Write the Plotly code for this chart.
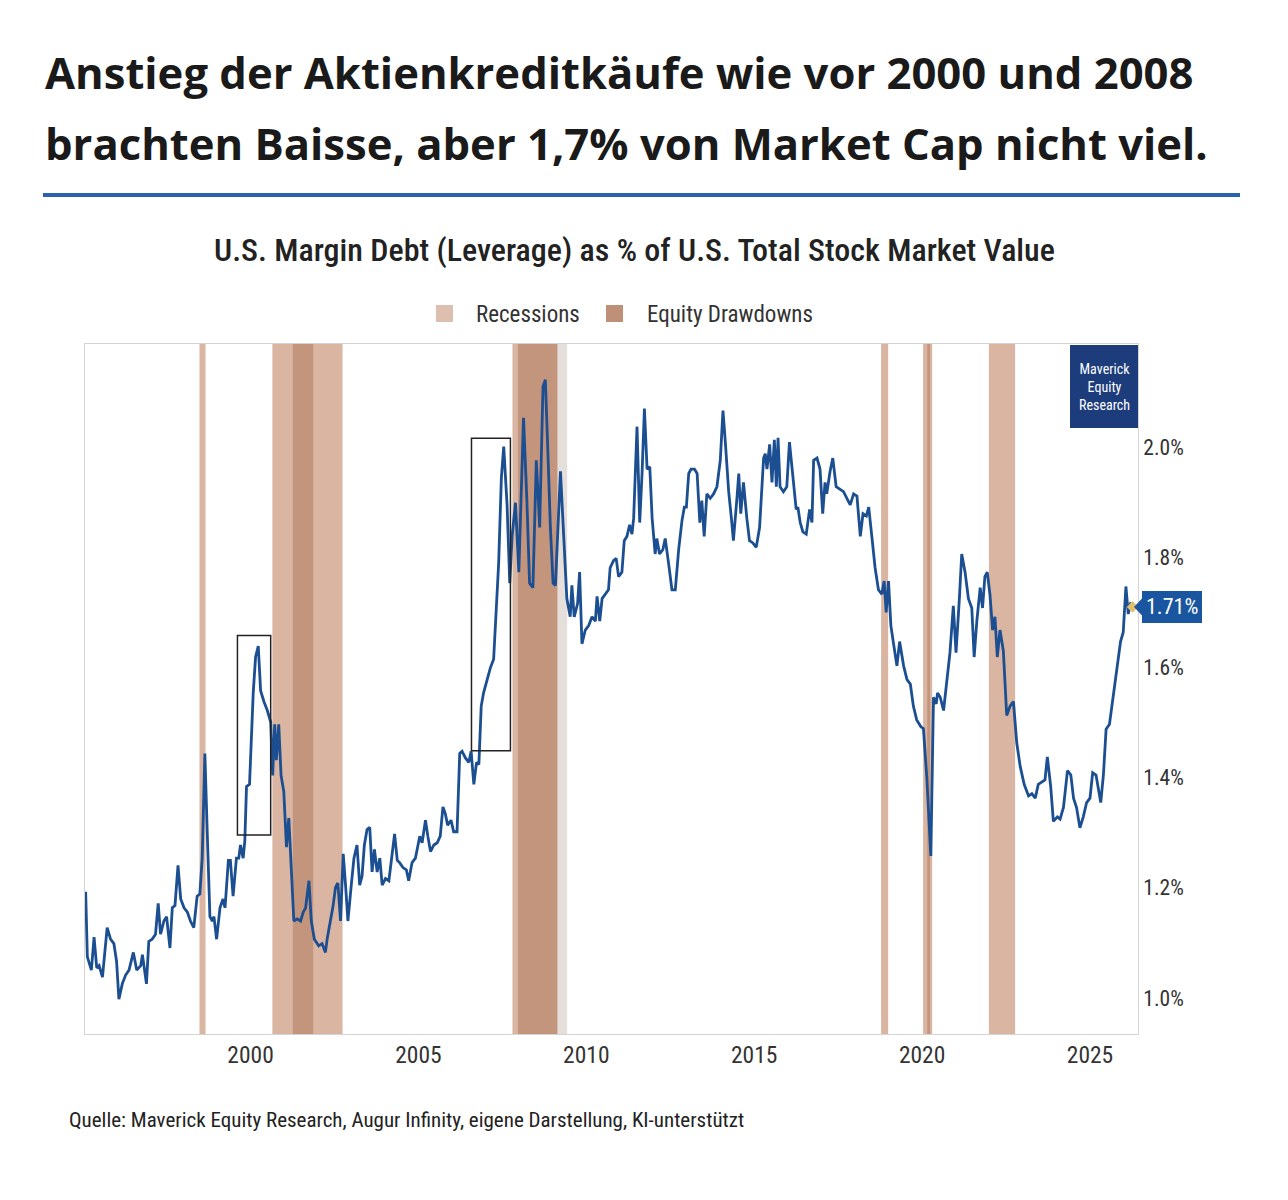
import plotly.graph_objects as go

# Margin debt as % of total US stock market value
years = [
    1995.09, 1995.14, 1995.26, 1995.34, 1995.42, 1995.49, 1995.59, 1995.73, 1995.83, 1995.93,
    1996.01, 1996.08, 1996.18, 1996.28, 1996.38, 1996.51, 1996.61, 1996.73, 1996.78, 1996.90,
    1996.97, 1997.07, 1997.17, 1997.25, 1997.32, 1997.42, 1997.50, 1997.60, 1997.67, 1997.75,
    1997.84, 1997.92, 1998.02, 1998.12, 1998.21, 1998.31, 1998.41, 1998.49, 1998.56, 1998.64,
    1998.71, 1998.79, 1998.86, 1998.91, 1998.99, 1999.09, 1999.18, 1999.24, 1999.34, 1999.40,
    1999.48, 1999.58, 1999.65, 1999.70, 1999.78, 1999.83, 1999.88, 1999.97, 2000.08, 2000.15,
    2000.23, 2000.30, 2000.40, 2000.50, 2000.60, 2000.66, 2000.72, 2000.77, 2000.84, 2000.91,
    2000.99, 2001.07, 2001.14, 2001.21, 2001.29, 2001.39, 2001.49, 2001.57, 2001.64, 2001.74,
    2001.81, 2001.90, 2002.03, 2002.13, 2002.23, 2002.28, 2002.36, 2002.46, 2002.53, 2002.60,
    2002.68, 2002.76, 2002.83, 2002.90, 2003.00, 2003.08, 2003.17, 2003.25, 2003.32, 2003.39,
    2003.47, 2003.55, 2003.62, 2003.69, 2003.77, 2003.85, 2003.92, 2004.02, 2004.12, 2004.22,
    2004.29, 2004.37, 2004.44, 2004.54, 2004.64, 2004.71, 2004.81, 2004.91, 2005.04, 2005.11,
    2005.21, 2005.28, 2005.36, 2005.46, 2005.56, 2005.65, 2005.73, 2005.80, 2005.87, 2005.97,
    2006.05, 2006.15, 2006.23, 2006.30, 2006.40, 2006.50, 2006.57, 2006.65, 2006.73, 2006.80,
    2006.87, 2006.94, 2007.04, 2007.14, 2007.24, 2007.29, 2007.39, 2007.47, 2007.54, 2007.64,
    2007.72, 2007.79, 2007.89, 2007.99, 2008.04, 2008.13, 2008.23, 2008.31, 2008.41, 2008.51,
    2008.56, 2008.61, 2008.71, 2008.78, 2008.85, 2008.93, 2009.01, 2009.08, 2009.23, 2009.33,
    2009.42, 2009.52, 2009.57, 2009.64, 2009.74, 2009.80, 2009.87, 2009.97, 2010.07, 2010.17,
    2010.27, 2010.32, 2010.40, 2010.47, 2010.57, 2010.66, 2010.71, 2010.81, 2010.89, 2010.96,
    2011.06, 2011.13, 2011.21, 2011.29, 2011.36, 2011.41, 2011.51, 2011.59, 2011.66, 2011.73,
    2011.81, 2011.89, 2011.96, 2012.05, 2012.10, 2012.18, 2012.28, 2012.35, 2012.45, 2012.55,
    2012.65, 2012.75, 2012.85, 2012.92, 2012.98, 2013.05, 2013.12, 2013.22, 2013.30, 2013.38,
    2013.44, 2013.51, 2013.59, 2013.69, 2013.79, 2013.89, 2013.99, 2014.07, 2014.14, 2014.24,
    2014.32, 2014.38, 2014.48, 2014.54, 2014.60, 2014.68, 2014.78, 2014.86, 2014.96, 2015.06,
    2015.16, 2015.28, 2015.33, 2015.38, 2015.46, 2015.53, 2015.60, 2015.66, 2015.71, 2015.77,
    2015.87, 2015.97, 2016.05, 2016.15, 2016.25, 2016.30, 2016.37, 2016.45, 2016.55, 2016.65,
    2016.72, 2016.77, 2016.87, 2016.96, 2017.04, 2017.11, 2017.16, 2017.26, 2017.34, 2017.44,
    2017.56, 2017.66, 2017.76, 2017.86, 2017.96, 2018.06, 2018.16, 2018.24, 2018.34, 2018.41,
    2018.51, 2018.60, 2018.70, 2018.80, 2018.87, 2018.93, 2019.00, 2019.07, 2019.15, 2019.25,
    2019.33, 2019.45, 2019.55, 2019.65, 2019.74, 2019.84, 2019.96, 2020.04, 2020.14, 2020.26,
    2020.34, 2020.42, 2020.46, 2020.54, 2020.64, 2020.74, 2020.83, 2020.93, 2021.01, 2021.11,
    2021.18, 2021.28, 2021.38, 2021.48, 2021.55, 2021.63, 2021.73, 2021.80, 2021.87, 2021.94,
    2022.02, 2022.10, 2022.17, 2022.24, 2022.32, 2022.42, 2022.52, 2022.62, 2022.72, 2022.82,
    2022.92, 2023.04, 2023.17, 2023.27, 2023.37, 2023.46, 2023.56, 2023.66, 2023.73, 2023.83,
    2023.91, 2024.03, 2024.11, 2024.21, 2024.33, 2024.43, 2024.51, 2024.60, 2024.70, 2024.80,
    2024.90, 2025.00, 2025.08, 2025.18, 2025.25, 2025.32, 2025.40, 2025.48, 2025.58, 2025.65,
    2025.74, 2025.84, 2025.91, 2025.99, 2026.07, 2026.14, 2026.21, 2026.27,
]
margin_debt_pct = [
    1.193, 1.075, 1.051, 1.111, 1.055, 1.059, 1.038, 1.128, 1.107, 1.099,
    1.067, 0.998, 1.026, 1.042, 1.051, 1.083, 1.051, 1.059, 1.079, 1.026,
    1.103, 1.107, 1.116, 1.172, 1.116, 1.140, 1.148, 1.091, 1.164, 1.168,
    1.241, 1.180, 1.164, 1.156, 1.140, 1.128, 1.185, 1.189, 1.254, 1.444,
    1.302, 1.148, 1.140, 1.148, 1.107, 1.164, 1.180, 1.164, 1.250, 1.250,
    1.185, 1.254, 1.254, 1.278, 1.254, 1.286, 1.384, 1.388, 1.554, 1.619,
    1.639, 1.558, 1.538, 1.522, 1.501, 1.404, 1.497, 1.432, 1.497, 1.404,
    1.375, 1.274, 1.327, 1.241, 1.140, 1.144, 1.140, 1.156, 1.164, 1.213,
    1.140, 1.107, 1.095, 1.099, 1.083, 1.107, 1.132, 1.168, 1.201, 1.209,
    1.140, 1.262, 1.205, 1.140, 1.205, 1.254, 1.278, 1.205, 1.221, 1.278,
    1.306, 1.310, 1.229, 1.270, 1.229, 1.254, 1.205, 1.217, 1.213, 1.262,
    1.298, 1.250, 1.246, 1.237, 1.233, 1.213, 1.246, 1.254, 1.294, 1.282,
    1.323, 1.294, 1.266, 1.278, 1.282, 1.294, 1.347, 1.335, 1.314, 1.323,
    1.302, 1.302, 1.444, 1.448, 1.436, 1.428, 1.448, 1.388, 1.428, 1.424,
    1.530, 1.554, 1.578, 1.599, 1.615, 1.676, 1.790, 1.944, 2.001, 1.895,
    1.753, 1.838, 1.899, 1.773, 1.871, 2.053, 1.903, 1.753, 1.745, 1.976,
    1.919, 1.854, 2.110, 2.122, 2.001, 1.854, 1.753, 1.749, 1.956, 1.830,
    1.725, 1.692, 1.749, 1.692, 1.716, 1.773, 1.643, 1.668, 1.676, 1.692,
    1.684, 1.729, 1.684, 1.725, 1.733, 1.741, 1.781, 1.794, 1.798, 1.765,
    1.773, 1.830, 1.838, 1.859, 1.842, 1.871, 2.037, 1.863, 1.952, 2.070,
    1.960, 1.964, 1.871, 1.806, 1.834, 1.806, 1.814, 1.834, 1.789, 1.741,
    1.741, 1.814, 1.867, 1.891, 1.891, 1.952, 1.960, 1.960, 1.952, 1.863,
    1.903, 1.838, 1.915, 1.907, 1.915, 1.928, 1.976, 2.066, 2.009, 1.919,
    1.871, 1.830, 1.903, 1.952, 1.879, 1.936, 1.871, 1.830, 1.826, 1.818,
    1.854, 1.980, 1.988, 1.960, 2.005, 1.936, 2.013, 1.928, 2.017, 1.928,
    1.919, 1.928, 2.009, 1.944, 1.887, 1.891, 1.863, 1.846, 1.842, 1.887,
    1.863, 1.976, 1.980, 1.960, 1.879, 1.936, 1.915, 1.956, 1.980, 1.928,
    1.923, 1.919, 1.907, 1.895, 1.915, 1.911, 1.838, 1.879, 1.875, 1.891,
    1.834, 1.781, 1.741, 1.733, 1.757, 1.700, 1.757, 1.676, 1.643, 1.603,
    1.647, 1.603, 1.578, 1.570, 1.530, 1.505, 1.493, 1.489, 1.400, 1.258,
    1.546, 1.534, 1.554, 1.546, 1.522, 1.578, 1.627, 1.712, 1.627, 1.725,
    1.806, 1.773, 1.725, 1.708, 1.619, 1.684, 1.745, 1.708, 1.765, 1.773,
    1.733, 1.668, 1.692, 1.619, 1.668, 1.630, 1.513, 1.530, 1.538, 1.463,
    1.421, 1.388, 1.367, 1.371, 1.363, 1.388, 1.392, 1.396, 1.438, 1.384,
    1.321, 1.329, 1.325, 1.346, 1.413, 1.405, 1.363, 1.346, 1.309, 1.329,
    1.355, 1.363, 1.409, 1.405, 1.380, 1.355, 1.405, 1.488, 1.497, 1.530,
    1.572, 1.613, 1.647, 1.664, 1.747, 1.697, 1.718, 1.710,
]

# shaded periods (decimal years)
recession_periods = [(2001.25, 2001.875), (2007.96, 2009.43), (2020.15, 2020.24)]
drawdown_periods = [
    (1998.48, 1998.66), (2000.65, 2002.74), (2007.80, 2009.14),
    (2018.78, 2018.99), (2020.03, 2020.30), (2021.99, 2022.77),
]
# boxes drawn around the run-ups before 2000 and 2008: (x0, x1, y0, y1)
highlight_boxes = [(1999.61, 2000.60, 1.296, 1.658), (2006.58, 2007.74, 1.449, 2.016)]

x_ticks = [2000, 2005, 2010, 2015, 2020, 2025]
y_ticks = [1.0, 1.2, 1.4, 1.6, 1.8, 2.0]
legend_names = ["Recessions", "Equity Drawdowns"]
last_label = "1.71%"

DRAWDOWN_COLOR = "#dab6a2"
RECESSION_COLOR = "#e5dfdb"
OVERLAP_COLOR = "#c4957d"
LEGEND_COLORS = ["#dcbfae", "#bf9078"]
LINE_COLOR = "#1c4f91"
NARROW = "Roboto Condensed, Liberation Sans Narrow, DejaVu Sans Condensed, Roboto, sans-serif"

# plot area in pixels, used to place things outside it
W, H = 1288, 1200
L, R, T, B = 85, 1138, 344, 1034


def px_x(p):
    return (p - L) / (R - L)


def px_y(p):
    return (B - p) / (B - T)


def add_text(text, x, y, size, xanchor="center", family=NARROW, color="#222222", **font_kw):
    fig.add_annotation(
        xref="paper", yref="paper", x=px_x(x), y=px_y(y), xanchor=xanchor, yanchor="middle",
        text=text, showarrow=False, font=dict(family=family, size=size, color=color, **font_kw),
    )


fig = go.Figure()

fig.add_trace(go.Scatter(
    x=years, y=margin_debt_pct, mode="lines",
    line=dict(color=LINE_COLOR, width=2.8), showlegend=False,
))
fig.add_trace(go.Scatter(
    x=[years[-1]], y=[margin_debt_pct[-1]], mode="markers",
    marker=dict(symbol="diamond", size=9, color="#e2c070"), showlegend=False,
))

# shading: drawdowns, recessions, then where they overlap
for x0, x1 in drawdown_periods:
    fig.add_vrect(x0=x0, x1=x1, fillcolor=DRAWDOWN_COLOR, opacity=1, line_width=0, layer="below")
for x0, x1 in recession_periods:
    fig.add_vrect(x0=x0, x1=x1, fillcolor=RECESSION_COLOR, opacity=1, line_width=0, layer="below")
for r0, r1 in recession_periods:
    for d0, d1 in drawdown_periods:
        a, b = max(r0, d0), min(r1, d1)
        if a < b:
            fig.add_vrect(x0=a, x1=b, fillcolor=OVERLAP_COLOR, opacity=1, line_width=0, layer="below")

for x0, x1, y0, y1 in highlight_boxes:
    fig.add_shape(type="rect", x0=x0, x1=x1, y0=y0, y1=y1,
                  line=dict(color="#222222", width=1.5), fillcolor="rgba(0,0,0,0)")

# end-value tag on the right edge, pointing at the last value
fig.add_shape(
    type="path", xref="paper", yref="y", xsizemode="pixel", ysizemode="pixel",
    xanchor=1, yanchor=margin_debt_pct[-1],
    path="M -4 0 L 4 -8.5 L 4 -16 L 64 -16 L 64 16 L 4 16 L 4 8.5 Z",
    fillcolor="#1a56a0", line_width=0,
)
fig.add_annotation(
    xref="paper", yref="y", x=1, y=margin_debt_pct[-1], xshift=34, xanchor="center",
    yanchor="middle", text=last_label, showarrow=False,
    font=dict(family=NARROW, size=22, color="white"),
)

# logo box
fig.add_shape(type="rect", xref="paper", yref="paper",
              x0=px_x(1070), x1=px_x(1138), y0=px_y(428), y1=px_y(345),
              fillcolor="#1d3c7c", line_width=0)
add_text("Maverick<br>Equity<br>Research", 1104, 387, 14, color="white")

# legend drawn by hand so the spacing matches
for name, color, sq_x, txt_x in zip(legend_names, LEGEND_COLORS, [436, 606], [474, 645]):
    fig.add_shape(type="rect", xref="paper", yref="paper",
                  x0=px_x(sq_x), x1=px_x(sq_x + 17), y0=px_y(322), y1=px_y(305),
                  fillcolor=color, line_width=0)
    add_text(name, txt_x, 314, 23, xanchor="left", color="#333333")

# headline, rule, chart title, source
add_text("<b>Anstieg der Aktienkreditkäufe wie vor 2000 und 2008</b>", 43, 72, 43.6,
         xanchor="left", family="Open Sans", color="#1a1a1a")
add_text("<b>brachten Baisse, aber 1,7% von Market Cap nicht viel.</b>", 43, 143, 43.6,
         xanchor="left", family="Open Sans", color="#1a1a1a")
fig.add_shape(type="line", xref="paper", yref="paper",
              x0=px_x(43), x1=px_x(1240), y0=px_y(195), y1=px_y(195),
              line=dict(color="#2a62b0", width=4))
add_text("U.S. Margin Debt (Leverage) as % of U.S. Total Stock Market Value", 635, 250, 32,
         weight=500)
add_text("Quelle: Maverick Equity Research, Augur Infinity, eigene Darstellung, KI-unterstützt",
         67, 1120, 21, xanchor="left")

fig.update_layout(
    width=W, height=H,
    margin=dict(l=L, r=W - R, t=T, b=H - B),
    paper_bgcolor="white", plot_bgcolor="white",
    font=dict(family=NARROW, color="#333333"),
    showlegend=False,
)
fig.update_xaxes(
    range=[1995.07, 2026.43], tickvals=x_ticks, ticktext=[str(t) for t in x_ticks],
    showgrid=False, zeroline=False, showline=True, linecolor="#d4d4d4", linewidth=1, mirror=True,
    ticks="", tickfont=dict(size=23.5, color="#333333"),
)
fig.update_yaxes(
    range=[0.935, 2.187], side="right", tickvals=y_ticks, ticktext=[f"{t:.1f}%" for t in y_ticks],
    showgrid=False, zeroline=False, showline=True, linecolor="#d4d4d4", linewidth=1, mirror=True,
    ticks="", tickfont=dict(size=21.5, color="#333333"),
)

fig.write_html("out.html", config={"displayModeBar": False},
               post_script="document.body.style.margin='0';")
